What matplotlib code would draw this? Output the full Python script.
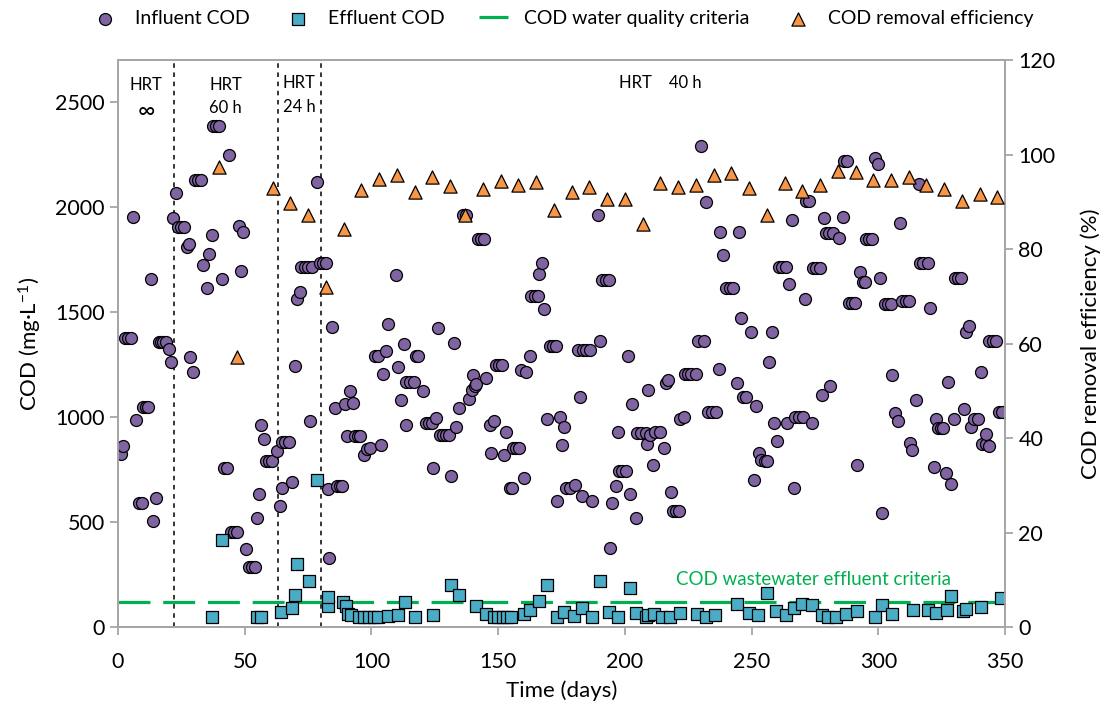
import matplotlib.pyplot as plt

plt.rcParams['font.family'] = ['Lato', 'DejaVu Sans']
plt.rcParams['mathtext.fontset'] = 'custom'
plt.rcParams['mathtext.rm'] = 'Lato'
plt.rcParams['mathtext.it'] = 'Lato:italic'

# influent COD (mg/L) by day
influent_day = [
    1.2, 2.1, 2.8, 4.1, 5.1, 6.0, 7.0, 8.4, 9.3, 10.0, 11.0, 12.0, 13.0, 14.0, 15.0,
    16.0, 16.8, 17.9, 18.8, 20.0, 20.9, 21.8, 22.7, 23.5, 24.7, 26.0, 27.1, 28.1, 28.6,
    29.7, 30.4, 31.4, 32.6, 33.6, 35.0, 35.9, 37.0, 37.6, 38.6, 40.0, 40.9, 41.9, 43.0,
    43.9, 44.7, 45.7, 46.8, 47.7, 48.7, 49.5, 50.7, 51.8, 52.8, 53.9, 54.7, 55.7, 56.6,
    57.6, 58.4, 59.5, 60.7, 62.6, 63.9, 64.7, 64.8, 66.0, 67.6, 68.6, 69.8, 70.7, 71.8,
    72.4, 73.7, 75.1, 75.7, 76.6, 78.7, 79.7, 81.0, 82.0, 82.7, 83.3, 84.6, 85.6, 86.5,
    87.5, 88.5, 89.5, 90.4, 91.5, 92.8, 93.6, 94.6, 95.4, 97.0, 98.3, 99.4, 101.3, 102.6,
    103.6, 104.6, 105.7, 106.6, 109.5, 110.5, 111.8, 112.8, 113.6, 113.8, 115.1, 116.7,
    117.5, 118.5, 120.4, 121.4, 122.7, 124.0, 124.3, 125.4, 126.3, 126.9, 128.2, 129.5,
    130.6, 131.4, 132.4, 133.5, 134.5, 136.1, 137.2, 138.5, 139.5, 140.0, 140.7, 141.4,
    142.0, 143.3, 144.3, 145.3, 146.6, 147.3, 148.2, 149.0, 150.3, 151.6, 152.2, 153.2,
    154.5, 155.6, 155.9, 156.9, 158.2, 159.1, 160.2, 161.1, 162.4, 163.1, 164.4, 165.7,
    166.3, 167.4, 168.1, 169.4, 170.3, 171.6, 172.7, 173.3, 174.2, 175.1, 175.9, 176.9,
    178.2, 180.2, 181.5, 182.2, 183.2, 183.6, 184.8, 186.4, 187.2, 189.4, 190.3, 191.1,
    192.4, 193.6, 194.0, 195.1, 196.4, 197.3, 197.7, 199.0, 200.3, 201.2, 201.9, 202.9,
    204.3, 204.8, 206.5, 208.2, 208.6, 209.1, 209.8, 211.1, 211.8, 213.7, 215.3, 216.1,
    217.0, 218.1, 219.0, 220.3, 221.3, 221.9, 223.2, 223.6, 224.9, 226.2, 228.2, 228.8,
    230.1, 231.1, 232.1, 232.8, 234.5, 236.1, 237.0, 237.6, 238.9, 240.0, 241.3, 242.6,
    244.2, 245.0, 246.0, 246.5, 247.9, 249.8, 250.9, 251.8, 252.8, 253.8, 255.1, 256.0,
    256.8, 258.1, 259.0, 259.9, 260.7, 262.1, 263.4, 263.9, 264.7, 266.0, 266.9, 267.3,
    268.6, 270.2, 270.9, 271.5, 272.8, 273.9, 274.1, 275.4, 276.8, 277.8, 278.7, 279.4,
    280.7, 281.0, 282.3, 284.6, 286.0, 286.6, 287.7, 288.3, 289.6, 290.9, 291.6, 292.8,
    293.8, 294.6, 295.0, 296.3, 297.6, 298.5, 299.8, 300.7, 301.5, 302.5, 303.8, 305.1,
    305.5, 306.4, 307.7, 308.6, 309.4, 311.0, 312.0, 312.6, 313.4, 314.7, 316.0, 316.5,
    317.8, 319.5, 320.5, 321.8, 322.6, 323.5, 324.8, 325.7, 326.8, 327.4, 328.7, 329.7,
    330.1, 331.4, 332.7, 333.6, 334.6, 335.7, 336.6, 337.9, 339.2, 340.6, 341.0, 342.3,
    342.5, 343.6, 343.8, 345.2, 346.5, 347.5, 348.8,
]
influent_cod = [
    826, 864, 1379, 1379, 1379, 1951, 988, 592, 592, 1048, 1048, 1048, 1658, 506, 618,
    1358, 1358, 1358, 1358, 1325, 1263, 1946, 2067, 1907, 1907, 1907, 1809, 1823, 1288,
    1217, 2129, 2129, 2129, 1724, 1615, 1779, 1869, 2386, 2386, 2386, 1658, 757, 757,
    2250, 453, 453, 453, 1908, 1697, 1883, 373, 290, 290, 290, 521, 634, 961,
    897, 791, 791, 791, 840, 579, 881, 663, 881, 881, 693, 1244, 1564, 1594,
    1716, 1716, 1716, 983, 1716, 2120, 1734, 1734, 1734, 657, 330, 1432, 1045, 675,
    675, 675, 1063, 911, 1125, 1066, 911, 911, 911, 823, 849, 853, 1293, 1293,
    867, 1208, 1317, 1445, 1676, 1238, 1080, 1350, 965, 1169, 1169, 1169,
    1293, 1293, 1125, 974, 974, 974, 757, 997, 1423, 915, 915, 915,
    915, 721, 1354, 956, 1045, 1963, 1963, 1089, 1128, 1201, 1151, 1160,
    1848, 1848, 1848, 1189, 961, 828, 983, 1249, 1249, 1249, 822, 929,
    663, 663, 855, 855, 855, 1226, 712, 1214, 1292, 1578, 1578, 1578,
    1684, 1732, 1516, 991, 1338, 1338, 1338, 600, 1000, 867, 952, 663,
    663, 677, 1320, 1098, 627, 1320, 1320, 1320, 604, 1963, 1365, 1652,
    1652, 1652, 378, 592, 672, 929, 743, 743, 743, 1292, 636, 1062,
    520, 924, 924, 924, 872, 1128, 915, 773, 929, 929, 855, 1164,
    1178, 645, 552, 552, 552, 991, 1000, 1205, 1205, 1205, 1205, 1365,
    2289, 1365, 2026, 1027, 1027, 1027, 1228, 1880, 1773, 1617, 1617, 1617,
    1164, 1880, 1471, 1098, 1098, 1405, 703, 1054, 831, 796, 792, 792,
    1263, 1405, 974, 888, 1716, 1716, 1716, 974, 1633, 1939, 663, 1000,
    1000, 1000, 1565, 2028, 2028, 974, 1708, 1708, 1708, 1107, 1948, 1875,
    1875, 1148, 1875, 1853, 1951, 2218, 2218, 1546, 1546, 1546, 775, 1693,
    1644, 1644, 1848, 1848, 1848, 2235, 2203, 1661, 547, 1537, 1537, 1537,
    1199, 1022, 983, 1924, 1551, 1551, 1551, 876, 844, 1080, 2111, 1734,
    1734, 1734, 1521, 764, 991, 947, 947, 947, 734, 1169, 684, 991,
    1661, 1661, 1661, 1041, 1405, 1436, 952, 991, 991, 1217, 871, 871,
    920, 864, 1361, 1361, 1361, 1027, 1027,
]

# effluent COD (mg/L) by day
effluent_day = [
    37.0, 40.9, 54.7, 56.6, 64.5, 68.7, 69.8, 70.7, 75.4, 78.7, 82.7, 82.9, 88.6, 89.9,
    90.6, 92.1, 95.2, 97.2, 99.1, 100.9, 102.6, 106.6, 110.3, 113.4, 117.1, 124.3, 131.5,
    134.5, 141.4, 145.1, 148.2, 150.0, 151.9, 153.5, 155.2, 160.0, 162.4, 166.3, 169.4,
    173.3, 175.8, 179.8, 183.1, 187.2, 190.3, 193.8, 197.3, 202.2, 204.3, 208.2, 209.1,
    211.4, 214.5, 217.7, 221.9, 228.4, 231.9, 235.4, 244.2, 248.8, 252.7, 256.0, 259.7,
    263.6, 266.9, 269.9, 273.9, 277.7, 280.3, 283.3, 287.3, 291.6, 298.5, 301.5, 305.5,
    313.6, 319.5, 322.6, 327.0, 328.7, 333.3, 334.6, 340.6, 348.4,
]
effluent_cod = [
    50, 414, 50, 50, 76, 94, 156, 304, 222, 704, 103, 144, 121, 103,
    64, 58, 50, 50, 50, 50, 50, 55, 58, 121, 50, 58, 200,
    156, 103, 64, 50, 50, 50, 50, 50, 64, 82, 126, 200,
    50, 76, 55, 94, 50, 222, 76, 50, 186, 67, 50, 58,
    64, 50, 50, 67, 64, 50, 58, 112, 67, 58, 165, 80,
    58, 94, 112, 108, 58, 50, 50, 64, 80, 50, 108, 62,
    85, 85, 67, 82, 148, 80, 89, 98, 138,
]

# COD removal efficiency (%), weekly
removal_day = [
    40, 47, 61, 68, 75, 82, 89, 96, 103, 110, 117, 124, 131, 137, 144, 151, 158, 165,
    172, 179, 186, 193, 200, 207, 214, 221, 228, 235, 242, 249, 256, 263, 270, 277, 284,
    291, 298, 305, 312, 319, 326, 333, 340, 347,
]
removal_eff = [
    97.3, 57.1, 93.0, 89.8, 87.2, 72.0, 84.2, 92.5, 94.9, 95.7, 92.1, 95.3, 93.3, 87.2,
    92.7, 94.5, 93.6, 94.1, 88.2, 92.1, 93.2, 90.7, 90.7, 85.4, 93.9, 93.2, 93.6, 95.7,
    96.2, 92.9, 87.2, 93.9, 92.4, 93.5, 96.5, 96.3, 94.7, 94.7, 95.3, 93.5, 92.7, 90.2,
    91.7, 91.0,
]

criteria = 120
hrt_changes = [22, 63, 80]

PURPLE = '#8064A2'
TEAL = '#4BACC6'
ORANGE = '#F79646'
GREEN = '#00B050'
GREY = '#A6A6A6'

fig = plt.figure(figsize=(11.08, 7.15), dpi=100)
ax = fig.add_axes([0.1065, 0.1224, 0.8006, 0.7937])
ax2 = ax.twinx()

h_in = ax.scatter(influent_day, influent_cod, s=74, marker='o', c=PURPLE,
                  edgecolors='black', linewidths=0.9, zorder=3, label='Influent COD')
h_crit, = ax.plot([0, 350], [criteria, criteria], color=GREEN, lw=2.3,
                  dashes=(10, 4), zorder=2, label='COD water quality criteria')
h_ef = ax.scatter(effluent_day, effluent_cod, s=74, marker='s', c=TEAL,
                  edgecolors='black', linewidths=0.9, zorder=4, label='Effluent COD')
for d in hrt_changes:
    ax.axvline(d, color='black', lw=1.1, ls=(0, (3, 3)), zorder=1)

h_re = ax2.scatter(removal_day, removal_eff, s=90, marker='^', c=ORANGE,
                   edgecolors='black', linewidths=0.9, zorder=3, label='COD removal efficiency')

ax.set_xlim(0, 350)
ax.set_ylim(0, 2700)
ax2.set_ylim(0, 120)
ax.set_xticks(range(0, 351, 50))
ax.set_yticks(range(0, 2501, 500))
ax2.set_yticks(range(0, 121, 20))

for a in (ax, ax2):
    for sp in a.spines.values():
        sp.set_color(GREY)
        sp.set_linewidth(1.3)
    a.tick_params(colors=GREY, labelcolor='black', labelsize=15.5, length=6, width=1.3)
ax.tick_params(axis='x', pad=12)

ax.set_xlabel('Time (days)', fontsize=16, labelpad=6)
ax.set_ylabel('COD (mg·L$^{-1}$)', fontsize=16, labelpad=8)
ax2.set_ylabel('COD removal efficiency (%)', fontsize=16, labelpad=18)

# HRT stage annotations
txt = dict(fontsize=12, ha='center', va='center')
ax.text(11, 2580, 'HRT', **txt)
ax.text(11, 2455, '∞', fontsize=17, ha='center', va='center')
ax.text(42.5, 2580, 'HRT', **txt)
ax.text(42.5, 2470, '60 h', **txt)
ax.text(71.5, 2590, 'HRT', **txt)
ax.text(71.5, 2475, '24 h', **txt)
ax.text(214, 2590, 'HRT    40 h', **txt)

ax.text(220, 229, 'COD wastewater effluent criteria', color=GREEN, fontsize=13.5,
        ha='left', va='center')

fig.legend(handles=[h_in, h_ef, h_crit, h_re], loc='center', ncol=4,
           bbox_to_anchor=(0.507, 0.974), frameon=False, fontsize=14,
           handlelength=1.5, handletextpad=0.8, columnspacing=1.75)

fig.savefig('out.png', dpi=100)
